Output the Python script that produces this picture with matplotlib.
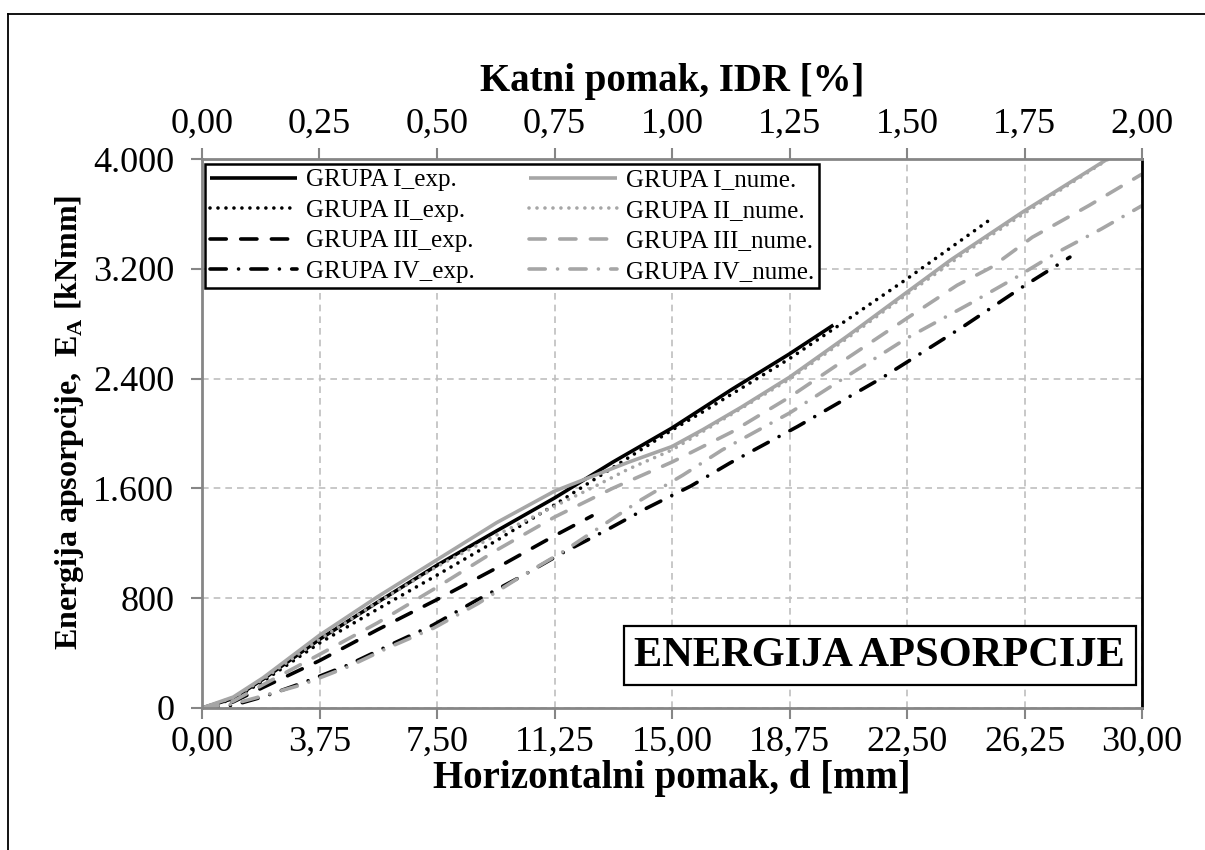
import matplotlib
matplotlib.use('Agg')
import matplotlib.pyplot as plt
from matplotlib.ticker import FuncFormatter, MultipleLocator
from matplotlib.lines import Line2D

plt.rcParams.update({
    'font.family': 'Liberation Serif',
    'mathtext.fontset': 'custom',
    'mathtext.rm': 'Liberation Serif',
    'mathtext.bf': 'Liberation Serif:bold',
})

# ---- data (d [mm], E_A [kNmm]) ----
d_I_exp = [0, 1.0, 1.95, 3.75, 5.6, 7.5, 9.4, 11.25, 13.1, 15.0, 16.9, 18.75, 20.15]
E_I_exp = [0, 70, 210, 500, 770, 1040, 1290, 1530, 1790, 2040, 2320, 2580, 2790]

d_II_exp = [0, 1.0, 1.95, 3.75, 5.6, 7.5, 9.4, 11.25, 13.1, 15.0, 16.0, 18.75, 20.6, 22.5, 25.1]
E_II_exp = [0, 65, 195, 473, 720, 968, 1220, 1480, 1750, 2025, 2160, 2545, 2830, 3127, 3550]

d_III_exp = [0, 1.0, 1.95, 3.75, 5.6, 7.5, 9.4, 11.25, 12.45]
E_III_exp = [0, 45, 150, 345, 570, 790, 1020, 1255, 1400]

d_IV_exp = [0, 1.0, 2.0, 3.2, 4.66, 6.0, 7.37, 8.78, 10.2, 11.5, 12.9, 14.2, 15.6,
            16.85, 19.0, 21.7, 24.3, 26.2, 27.7]
E_IV_exp = [0, 20, 85, 182, 313, 459, 604, 787, 960, 1129, 1295, 1457, 1617,
            1785, 2050, 2405, 2780, 3070, 3285]

d_I_num = [0, 1.0, 1.95, 3.75, 5.6, 7.5, 9.4, 11.25, 12.2, 13.6, 15.0, 16.0, 17.2,
           18.75, 20.6, 22.5, 23.9, 26.2, 28.9]
E_I_num = [0, 80, 220, 530, 810, 1080, 1350, 1580, 1665, 1790, 1905, 2030, 2190,
           2410, 2710, 3030, 3265, 3615, 4000]

d_II_num = [0, 1.0, 1.95, 3.75, 5.6, 7.5, 9.4, 11.25, 12.5, 13.6, 15.0, 16.9, 18.75,
            20.6, 22.5, 24.4, 26.25, 28.9]
E_II_num = [0, 75, 210, 500, 770, 1030, 1260, 1470, 1610, 1740, 1880, 2140, 2395,
            2695, 3015, 3325, 3605, 3995]

d_III_num = [0, 1.0, 1.95, 3.75, 5.6, 7.5, 9.4, 11.25, 13.1, 15.0, 16.9, 18.75, 20.6,
             22.5, 24.1, 25.2, 26.5, 28.3, 29.2, 30.0]
E_III_num = [0, 50, 170, 390, 620, 880, 1150, 1391, 1600, 1792, 2010, 2265, 2550,
             2840, 3080, 3212, 3430, 3660, 3782, 3890]

d_IV_num = [0, 1.0, 1.7, 3.2, 4.66, 6.0, 7.4, 8.8, 10.15, 11.5, 12.8, 14.0, 15.35,
            16.6, 18.75, 20.6, 22.5, 24.5, 26.0, 27.3, 28.7, 30.0]
E_IV_num = [0, 30, 73, 170, 300, 445, 583, 760, 954, 1136, 1333, 1515, 1697,
            1880, 2149, 2420, 2695, 2945, 3140, 3320, 3490, 3660]

labels = ['GRUPA I_exp.', 'GRUPA II_exp.', 'GRUPA III_exp.', 'GRUPA IV_exp.',
          'GRUPA I_nume.', 'GRUPA II_nume.', 'GRUPA III_nume.', 'GRUPA IV_nume.']

BLACK = '#000000'
GRAY = '#A6A6A6'
AX_GRAY = '#868686'

solid = '-'
dotted = (0, (0.01, 2.2))
dashed = (0, (4.5, 4.0))
dashdot = (0, (4.5, 3.4, 0.01, 3.4))

series = [
    (d_I_exp, E_I_exp, BLACK, solid),
    (d_II_exp, E_II_exp, BLACK, dotted),
    (d_III_exp, E_III_exp, BLACK, dashed),
    (d_IV_exp, E_IV_exp, BLACK, dashdot),
    (d_I_num, E_I_num, GRAY, solid),
    (d_II_num, E_II_num, GRAY, dotted),
    (d_III_num, E_III_num, GRAY, dashed),
    (d_IV_num, E_IV_num, GRAY, dashdot),
]

fig = plt.figure(figsize=(12.05, 8.5), dpi=100)
ax = fig.add_axes([202/1205, 1 - 708/850, 940/1205, 549/850])

for (x, y, c, ls), lab in zip(series, labels):
    ax.plot(x, y, color=c, linestyle=ls, linewidth=2.6, label=lab,
            dash_capstyle='round', solid_capstyle='butt')

ax.set_xlim(0, 30)
ax.set_ylim(0, 4000)
ax.xaxis.set_major_locator(MultipleLocator(3.75))
ax.yaxis.set_major_locator(MultipleLocator(800))
ax.xaxis.set_major_formatter(FuncFormatter(lambda v, p: f'{v:.2f}'.replace('.', ',')))
ax.yaxis.set_major_formatter(FuncFormatter(lambda v, p: f'{int(round(v)):,}'.replace(',', '.')))
ax.grid(True, color='#BFBFBF', linestyle=(0, (4, 3)), linewidth=1.2)
ax.set_axisbelow(True)

for s in ['left', 'bottom', 'top']:
    ax.spines[s].set_color(AX_GRAY)
    ax.spines[s].set_linewidth(2.0)
ax.spines['right'].set_color('black')
ax.spines['right'].set_linewidth(2.0)
ax.tick_params(axis='both', direction='out', length=8, width=1.5, color=AX_GRAY,
               labelsize=26)
ax.tick_params(axis='x', pad=5)
ax.tick_params(axis='y', pad=12)

ax.set_xlabel('Horizontalni pomak, d [mm]', fontsize=28, fontweight='bold', labelpad=1)
ax.set_ylabel(r'Energija apsorpcije,  E$_\mathbf{A}$ [kNmm]', fontsize=23,
              fontweight='bold')
ax.yaxis.set_label_coords(-0.123, 0.52)

# top axis: inter-storey drift ratio
ax2 = ax.twiny()
ax2.set_xlim(0, 2.0)
ax2.xaxis.set_major_locator(MultipleLocator(0.25))
ax2.xaxis.set_major_formatter(FuncFormatter(lambda v, p: f'{v:.2f}'.replace('.', ',')))
ax2.tick_params(axis='x', direction='out', length=8, width=1.5, color=AX_GRAY,
                labelsize=26, pad=5)
for s in ax2.spines.values():
    s.set_visible(False)
ax2.set_xlabel('Katni pomak, IDR [%]', fontsize=28, fontweight='bold', labelpad=12)

leg = ax.legend(ncol=2, loc='upper left', bbox_to_anchor=(0.003, 0.991),
                borderaxespad=0, fontsize=18, handlelength=3.5, handletextpad=0.35,
                columnspacing=2.18, labelspacing=0.32, fancybox=False,
                framealpha=1, edgecolor='black', borderpad=0.2)
leg.get_frame().set_linewidth(1.8)

ax.text(0.721, 0.095, 'ENERGIJA APSORPCIJE', transform=ax.transAxes, fontsize=30.5,
        fontweight='bold', ha='center', va='center',
        bbox=dict(boxstyle='square,pad=0.25', facecolor='white', edgecolor='black',
                  linewidth=1.6))

# outer frame (only left and top edges visible)
fig.add_artist(Line2D([8/1205, 8/1205], [0, 1 - 14/850], color='black', linewidth=1.3,
                      transform=fig.transFigure))
fig.add_artist(Line2D([8/1205, 1], [1 - 14/850, 1 - 14/850], color='black', linewidth=1.3,
                      transform=fig.transFigure))

fig.savefig('out.png', dpi=100)
